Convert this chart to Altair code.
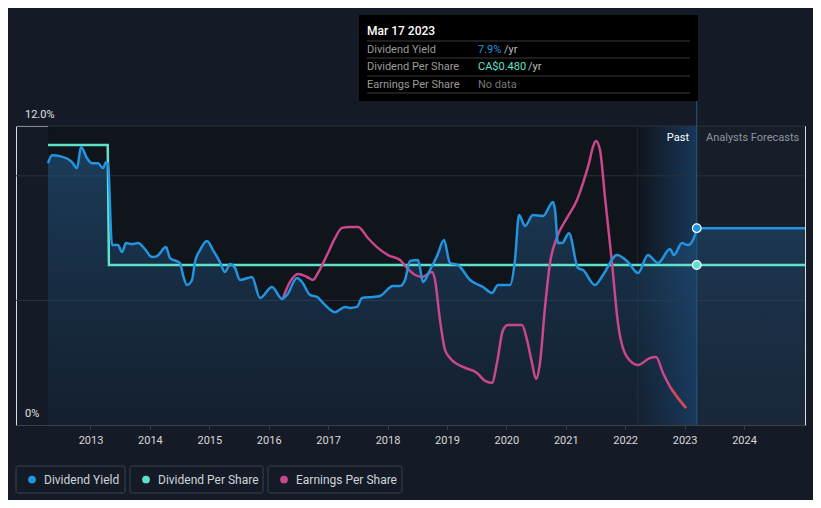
import altair as alt
import pandas as pd

# ---------------- data ----------------
yield_years = [2012.285, 2012.352, 2012.487, 2012.689, 2012.773, 2012.840, 2012.941, 2013.025,
               2013.126, 2013.210, 2013.261, 2013.295, 2013.362, 2013.463, 2013.530, 2013.598,
               2013.699, 2013.800, 2013.917, 2014.035, 2014.119, 2014.271, 2014.338, 2014.506,
               2014.557, 2014.624, 2014.708, 2014.759, 2014.843, 2014.961, 2015.062, 2015.179,
               2015.264, 2015.348, 2015.432, 2015.516, 2015.651, 2015.718, 2015.853, 2016.055,
               2016.223, 2016.307, 2016.476, 2016.560, 2016.695, 2016.813, 2016.914, 2017.116,
               2017.284, 2017.368, 2017.486, 2017.570, 2017.755, 2017.873, 2018.092, 2018.210,
               2018.294, 2018.378, 2018.513, 2018.597, 2018.715, 2018.833, 2018.950, 2019.051,
               2019.186, 2019.388, 2019.607, 2019.758, 2019.859, 2020.061, 2020.145, 2020.213,
               2020.314, 2020.448, 2020.617, 2020.785, 2020.819, 2020.869, 2020.937, 2021.054,
               2021.206, 2021.290, 2021.492, 2021.627, 2021.862, 2022.047, 2022.216, 2022.384,
               2022.552, 2022.754, 2022.821, 2022.956, 2023.057, 2023.175, 2023.205]
yield_vals = [10.51, 10.83, 10.79, 10.55, 10.31, 11.16, 10.71, 10.51,
              10.51, 10.31, 10.55, 10.47, 7.22, 7.22, 6.94, 7.30,
              7.26, 7.30, 7.06, 6.74, 6.78, 7.14, 6.70, 6.50,
              6.02, 5.62, 5.82, 6.54, 7.02, 7.38, 7.02, 6.54,
              6.14, 6.46, 6.30, 5.82, 5.90, 5.94, 5.10, 5.54,
              5.06, 5.22, 5.90, 5.74, 5.22, 5.14, 4.90, 4.53,
              4.74, 4.70, 4.74, 5.10, 5.14, 5.18, 5.58, 5.58,
              5.82, 6.58, 6.62, 5.74, 6.22, 6.78, 7.42, 6.50,
              6.42, 5.82, 5.54, 5.30, 5.62, 5.62, 6.62, 8.43,
              7.99, 8.43, 8.39, 8.95, 8.63, 7.30, 7.30, 7.70,
              6.30, 6.22, 5.62, 6.02, 6.82, 6.54, 6.10, 6.82,
              6.50, 7.06, 6.82, 7.30, 7.22, 7.62, 7.90]
forecast_years = [2023.205, 2025.027]
forecast_yield = [7.90, 7.90]

dps_years = [2012.285, 2013.290, 2013.310, 2025.027]
dps_vals = [0.84, 0.84, 0.48, 0.48]

eps_years = [2016.240, 2016.358, 2016.493, 2016.644, 2016.745, 2016.829, 2016.981, 2017.116,
             2017.233, 2017.368, 2017.503, 2017.671, 2017.822, 2018.008, 2018.210, 2018.328,
             2018.463, 2018.580, 2018.749, 2018.799, 2018.883, 2018.968, 2019.051, 2019.270,
             2019.506, 2019.640, 2019.758, 2019.842, 2019.943, 2020.027, 2020.263, 2020.348,
             2020.432, 2020.499, 2020.566, 2020.651, 2020.735, 2020.853, 2021.021, 2021.189,
             2021.290, 2021.391, 2021.458, 2021.509, 2021.576, 2021.660, 2021.778, 2021.879,
             2022.031, 2022.216, 2022.418, 2022.519, 2022.637, 2022.771, 2022.889, 2023.024]
eps_vals = [5.10, 5.74, 6.06, 5.94, 5.82, 6.10, 6.82, 7.50,
            7.91, 7.95, 7.95, 7.50, 7.14, 6.82, 6.62, 6.30,
            6.02, 5.94, 6.14, 5.82, 4.21, 3.01, 2.69, 2.33,
            2.09, 1.77, 1.69, 2.49, 3.81, 4.01, 4.01, 3.41,
            2.49, 1.85, 2.49, 4.74, 6.50, 7.54, 8.31, 9.03,
            9.71, 10.51, 11.16, 11.40, 11.04, 9.15, 6.50, 4.09,
            2.73, 2.41, 2.69, 2.73, 2.09, 1.48, 1.08, 0.68]

x_ticks = list(range(2013, 2025))
grid_levels = [5, 10, 12]
y_label_levels = [12, 0]
y_label_texts = ["12.0%", "0%"]
series_names = ["Dividend Yield", "Dividend Per Share", "Earnings Per Share"]
series_colors = ["#2394df", "#5ee1c9", "#c9478a"]

X0, X1 = 2011.746, 2025.027
DATA_START = 2012.285
HL_START = 2022.21
NOW = 2023.205
W, H = 789, 299
PAGE_BG = "#151b26"

# ---------------- frames ----------------
df_yield = pd.DataFrame({"year": yield_years, "v": yield_vals})
df_fc = pd.DataFrame({"year": forecast_years, "v": forecast_yield})
df_all_yield = pd.concat([df_yield, df_fc.iloc[1:]], ignore_index=True)
df_dps = pd.DataFrame({"year": dps_years, "v": dps_vals})
df_eps = pd.DataFrame({"year": eps_years, "v": eps_vals})
df_eps_end = df_eps[df_eps["year"] >= 2022.70]
one = pd.DataFrame({"a": [0]})

xscale = alt.Scale(domain=[X0, X1], nice=False, zero=False)
xaxis = alt.Axis(values=x_ticks, format="d", grid=False, domainColor="#3a404b",
                 tickColor="#3a404b", tickSize=4, labelColor="#d8d8d8", labelFontSize=11,
                 labelPadding=5, title=None, labelFlush=False, domainWidth=1)


def X(f="year"):
    return alt.X(f"{f}:Q", scale=xscale, axis=xaxis)


def Y(f="v", dom=(0, 12)):
    return alt.Y(f"{f}:Q", scale=alt.Scale(domain=list(dom), nice=False, zero=False), axis=None)


# backgrounds
bg_df = pd.DataFrame({"x": [DATA_START, NOW], "x2": [NOW, X1], "c": ["#10141b", "#171e29"]})
bg = alt.Chart(bg_df).mark_rect().encode(
    x=X("x"), x2="x2:Q", y=alt.value(0), y2=alt.value(H), color=alt.Color("c:N", scale=None))

hl = alt.Chart(pd.DataFrame({"x": [HL_START], "x2": [NOW]})).mark_rect(
    color=alt.Gradient(gradient="linear",
                       stops=[alt.GradientStop(color="#10151c", offset=0),
                              alt.GradientStop(color="#17375a", offset=1)],
                       x1=0, x2=1, y1=0, y2=0)
).encode(x=X("x"), x2="x2:Q", y=alt.value(0), y2=alt.value(H))

grid = alt.Chart(pd.DataFrame({"v": grid_levels})).mark_rule(color="#2c323c", strokeWidth=1).encode(
    y=Y(), x=alt.value(0), x2=alt.value(W))

hl_line = alt.Chart(pd.DataFrame({"year": [HL_START]})).mark_rule(color="#1c2836", strokeWidth=1).encode(
    x=X(), y=alt.value(0), y2=alt.value(H))

area = alt.Chart(df_all_yield).mark_area(
    interpolate="monotone",
    color=alt.Gradient(gradient="linear",
                       stops=[alt.GradientStop(color="rgba(33,86,130,0.62)", offset=0),
                              alt.GradientStop(color="rgba(30,62,98,0.28)", offset=1)],
                       x1=1, x2=1, y1=0, y2=1)
).encode(x=X(), y=Y())

now_line = alt.Chart(pd.DataFrame({"year": [NOW]})).mark_rule(color="#245a82", strokeWidth=1).encode(
    x=X(), y=alt.value(-111), y2=alt.value(H))

dps_line = alt.Chart(df_dps).mark_line(color=series_colors[1], strokeWidth=2.5).encode(
    x=X(), y=Y(dom=(0, 0.897)))

eps_line = alt.Chart(df_eps).mark_line(color=series_colors[2], strokeWidth=2.5, interpolate="monotone").encode(
    x=X(), y=Y())
eps_end = alt.Chart(df_eps_end).mark_line(color="#d9474f", strokeWidth=2.5, interpolate="monotone").encode(
    x=X(), y=Y())

yield_line = alt.Chart(df_all_yield).mark_line(color=series_colors[0], strokeWidth=2.5, interpolate="monotone").encode(
    x=X(), y=Y())

dot_y = alt.Chart(df_fc.iloc[:1]).mark_point(filled=True, size=75, color=series_colors[0],
                                             stroke="white", strokeWidth=1.2, opacity=1).encode(x=X(), y=Y())
dot_d = alt.Chart(df_dps.iloc[-1:].assign(year=NOW)).mark_point(filled=True, size=75, color=series_colors[1],
                                                               stroke="white", strokeWidth=1.2, opacity=1).encode(
    x=X(), y=Y(dom=(0, 0.897)))

ylabels = alt.Chart(pd.DataFrame({"v": y_label_levels, "t": y_label_texts})).mark_text(
    align="left", baseline="middle", dx=0, dy=-11, fontSize=11, color="#e0e0e0").encode(
    x=alt.value(9), y=Y(), text="t:N")


def txt(s, x, y, color="#e0e0e0", size=11, align="left", weight="normal"):
    return alt.Chart(one).mark_text(text=s, align=align, baseline="middle", fontSize=size,
                                    color=color, fontWeight=weight).encode(x=alt.value(x), y=alt.value(y))


past_txt = txt("Past", 673, 12, "#ffffff", 11, "right")
fc_txt = txt("Analysts Forecasts", 690, 12, "#8f959e", 11)

# tooltip box
tip_bg = alt.Chart(one).mark_rect(color="#000000").encode(
    x=alt.value(343), x2=alt.value(682), y=alt.value(-111), y2=alt.value(-25))
tip_lines = alt.Chart(pd.DataFrame({"yy": [-85, -68, -50, -33]})).mark_rule(color="#3a3a3a").encode(
    x=alt.value(351), x2=alt.value(674), y=alt.Y("yy:Q", scale=None))
tip = [tip_bg, tip_lines,
       txt("Mar 17 2023", 351, -95, "#ffffff", 12, weight=500),
       txt("Dividend Yield", 351, -76, "#9a9a9a", 11),
       txt("Dividend Per Share", 351, -59, "#9a9a9a", 11),
       txt("Earnings Per Share", 351, -41, "#9a9a9a", 11),
       txt("7.9%", 462, -76, series_colors[0], 11),
       txt("/yr", 488, -76, "#bdbdbd", 11),
       txt("CA$0.480", 462, -59, series_colors[1], 11),
       txt("/yr", 512, -59, "#bdbdbd", 11),
       txt("No data", 462, -41, "#777777", 11)]

# legend
box_x = [(0, 109), (114, 247), (252, 386)]
legend = []
for i, name in enumerate(series_names):
    x0, x1 = box_x[i]
    legend.append(alt.Chart(one).mark_rect(fill=PAGE_BG, stroke="#3b4250", strokeWidth=1,
                                           cornerRadius=2).encode(
        x=alt.value(x0), x2=alt.value(x1), y=alt.value(340), y2=alt.value(367)))
    legend.append(alt.Chart(one).mark_point(filled=True, size=60, color=series_colors[i], opacity=1).encode(
        x=alt.value(x0 + 16), y=alt.value(353.5)))
    legend.append(txt(name, x0 + 28, 353.5, "#cfd3da", 12))

chart = alt.layer(bg, hl, grid, hl_line, area, now_line, dps_line, eps_line, eps_end, yield_line,
                  dot_y, dot_d, ylabels, past_txt, fc_txt, *tip, *legend).resolve_scale(
    y="independent").properties(
    width=W, height=H,
    padding={"left": 8, "top": 118, "right": 8, "bottom": 75},
    autosize=alt.AutoSizeParams(type="none"),
    background=PAGE_BG,
    usermeta={"embedOptions": {"defaultStyle": "body { background-color: %s; }" % PAGE_BG}},
).configure_view(stroke=None).configure(font="Roboto")

chart.save("out.html", embed_options={"renderer": "svg", "actions": False})
